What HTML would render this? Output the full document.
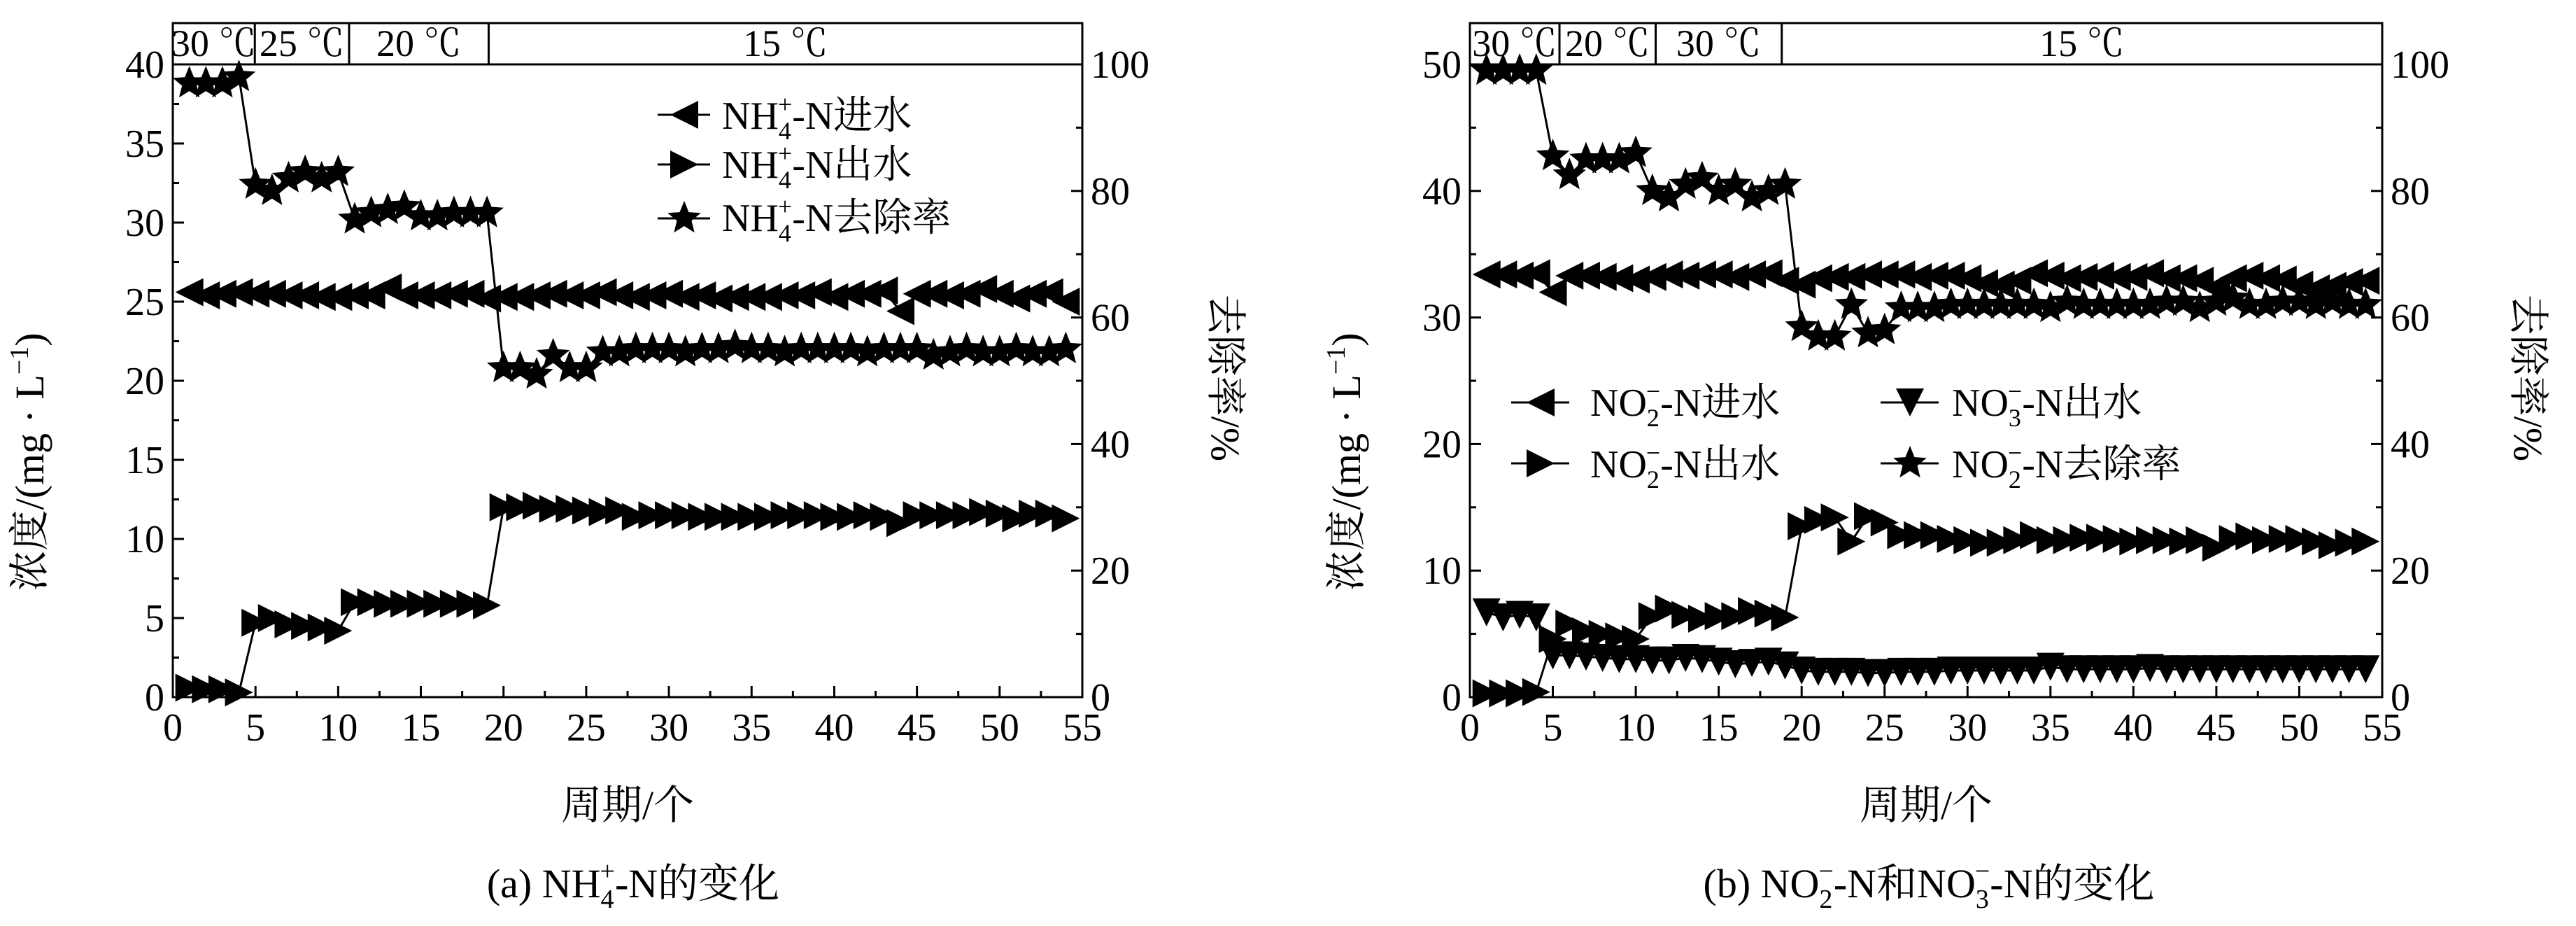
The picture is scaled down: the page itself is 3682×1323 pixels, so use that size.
<!DOCTYPE html>
<html><head><meta charset="utf-8"><style>
html,body{margin:0;padding:0;background:#fff}
svg text{font-family:"Liberation Serif","Noto Serif CJK SC","Noto Sans CJK SC",serif;fill:#000}
</style></head><body>
<svg id="s" xmlns="http://www.w3.org/2000/svg" width="3682" height="1318" viewBox="0 0 3682 1318">
<rect width="3682" height="1318" fill="#fff"/>
<g id="g"></g>
<g font-size="56">
<text x="1032" y="184">NH<tspan font-size="36" dy="15">4</tspan><tspan font-size="36" dx="-19" dy="-38">+</tspan><tspan dy="23">-N进水</tspan></text>
<text x="1032" y="254">NH<tspan font-size="36" dy="15">4</tspan><tspan font-size="36" dx="-19" dy="-38">+</tspan><tspan dy="23">-N出水</tspan></text>
<text x="1032" y="330">NH<tspan font-size="36" dy="15">4</tspan><tspan font-size="36" dx="-19" dy="-38">+</tspan><tspan dy="23">-N去除率</tspan></text>
<text x="2273" y="594">NO<tspan font-size="36" dy="15">2</tspan><tspan font-size="36" dx="-19" dy="-38">−</tspan><tspan dy="23">-N进水</tspan></text>
<text x="2273" y="682">NO<tspan font-size="36" dy="15">2</tspan><tspan font-size="36" dx="-19" dy="-38">−</tspan><tspan dy="23">-N出水</tspan></text>
<text x="2790" y="594">NO<tspan font-size="36" dy="15">3</tspan><tspan font-size="36" dx="-19" dy="-38">−</tspan><tspan dy="23">-N出水</tspan></text>
<text x="2790" y="682">NO<tspan font-size="36" dy="15">2</tspan><tspan font-size="36" dx="-19" dy="-38">−</tspan><tspan dy="23">-N去除率</tspan></text>
</g>
<g font-size="58">
<text transform="translate(62,660) rotate(-90)" text-anchor="middle">浓度/(mg · L<tspan font-size="38" dy="-22">−1</tspan><tspan dy="22">)</tspan></text>
<text transform="translate(1732,540) rotate(90)" text-anchor="middle">去除率/%</text>
<text transform="translate(1944,660) rotate(-90)" text-anchor="middle">浓度/(mg · L<tspan font-size="38" dy="-22">−1</tspan><tspan dy="22">)</tspan></text>
<text transform="translate(3594,540) rotate(90)" text-anchor="middle">去除率/%</text>
<text x="897" y="1170" text-anchor="middle">周期/个</text>
<text x="2753" y="1170" text-anchor="middle">周期/个</text>
<text x="905" y="1282" text-anchor="middle">(a) NH<tspan font-size="38" dy="15">4</tspan><tspan font-size="38" dx="-20" dy="-40">+</tspan><tspan dy="25">-N的变化</tspan></text>
<text x="2757" y="1282" text-anchor="middle">(b) NO<tspan font-size="38" dy="15">2</tspan><tspan font-size="38" dx="-20" dy="-40">−</tspan><tspan dy="25">-N和NO</tspan><tspan font-size="38" dy="15">3</tspan><tspan font-size="38" dx="-20" dy="-40">−</tspan><tspan dy="25">-N的变化</tspan></text>
</g>
</svg>
<script>
const NS="http://www.w3.org/2000/svg",G=document.getElementById('g');
function el(t,a,txt){const e=document.createElementNS(NS,t);for(const k in a)e.setAttribute(k,a[k]);if(txt!=null)e.textContent=txt;G.appendChild(e);return e;}
function tri(x,y,d){const s=20;let p;
 if(d=='L')p=[[x-s,y],[x+s,y-s],[x+s,y+s]];else if(d=='R')p=[[x+s,y],[x-s,y-s],[x-s,y+s]];else p=[[x,y+s],[x-s,y-s],[x+s,y-s]];
 el('polygon',{points:p.map(q=>q.join(',')).join(' '),fill:'#000'});}
function star(x,y){const R=25,r=11;let p=[];for(let i=0;i<10;i++){const a=-Math.PI/2+i*Math.PI/5,rr=i%2?r:R;p.push((x+rr*Math.cos(a)).toFixed(1)+','+(y+rr*Math.sin(a)).toFixed(1));}el('polygon',{points:p.join(' '),fill:'#000'});}
function series(X,Y,data,m){el('polyline',{points:data.map((v,i)=>X(i+1)+','+Y(v)).join(' '),fill:'none',stroke:'#000','stroke-width':3});
 data.forEach((v,i)=>{const x=X(i+1),y=Y(v);if(m=='S')star(x,y);else tri(x,y,m);});}
function axes(x0,x1,yT,yB,yMax,yStep,yMinor,bands){
 const X=v=>x0+(x1-x0)*v/55;
 el('rect',{x:x0,y:33,width:x1-x0,height:yT-33,fill:'none',stroke:'#000','stroke-width':3});
 let prev=0;bands.forEach(b=>{if(b[0]<55)el('line',{x1:X(b[0]),y1:33,x2:X(b[0]),y2:yT,stroke:'#000','stroke-width':3});
  el('text',{x:(X(prev)+X(b[0]))/2,y:yT-12,'text-anchor':'middle','font-size':54},b[1]);prev=b[0];});
 el('rect',{x:x0,y:yT,width:x1-x0,height:yB-yT,fill:'none',stroke:'#000','stroke-width':3});
 for(let v=0;v<=55;v+=2.5){const x=X(v),L=(v%5==0)?16:9;el('line',{x1:x,y1:yB,x2:x,y2:yB-L,stroke:'#000','stroke-width':3});
  if(v%5==0)el('text',{x:x,y:yB+62,'text-anchor':'middle','font-size':56},v);}
 for(let c=0;c<=yMax+1e-6;c+=yMinor){const y=yB-(yB-yT)*c/yMax,maj=Math.abs(c/yStep-Math.round(c/yStep))<1e-6,L=maj?16:9;
  el('line',{x1:x0,y1:y,x2:x0+L,y2:y,stroke:'#000','stroke-width':3});
  if(maj)el('text',{x:x0-12,y:y+19,'text-anchor':'end','font-size':56},Math.round(c));}
 for(let p=0;p<=100;p+=10){const y=yB-(yB-yT)*p/100,L=p%20==0?16:9;el('line',{x1:x1,y1:y,x2:x1-L,y2:y,stroke:'#000','stroke-width':3});
  if(p%20==0)el('text',{x:x1+12,y:y+19,'font-size':56},p);}
 return X;}
const X1=axes(247,1547,92,996,40,5,2.5,[[4.96,'30 ℃'],[10.66,'25 ℃'],[19.1,'20 ℃'],[55,'15 ℃']]);
const Y1=c=>996-904*c/40,R1=p=>996-904*p/100;
const inA=[25.6,25.4,25.5,25.6,25.5,25.5,25.4,25.4,25.3,25.3,25.4,25.4,25.9,25.4,25.4,25.4,25.5,25.5,25.2,25.3,25.3,25.4,25.5,25.4,25.4,25.6,25.4,25.3,25.4,25.5,25.3,25.4,25.2,25.3,25.3,25.3,25.4,25.4,25.6,25.3,25.5,25.5,25.7,24.4,25.5,25.5,25.4,25.5,25.8,25.5,25.2,25.5,25.6,25];
const outA=[0.6,0.5,0.5,0.3,4.7,5,4.6,4.5,4.4,4.2,6,6,5.9,5.9,5.9,5.9,5.9,5.9,5.8,12,12,12.1,11.9,11.9,11.8,11.7,11.8,11.4,11.5,11.5,11.5,11.4,11.4,11.4,11.4,11.4,11.5,11.5,11.5,11.4,11.4,11.5,11.4,11,11.5,11.5,11.5,11.5,11.7,11.6,11.3,11.6,11.6,11.3];
const remA=[97,97,97,98,81,80,82,83,82,83,75.5,76.5,77,77.5,76,76,76.5,76.5,76.5,52,52,51,54,52,52,54.5,54.5,55,55,55,54.5,55,55,55.5,55,55,54.5,55,55,55,55,54.5,55,55,55,54,54.5,55,54.5,54.5,55,54.5,54.5,55];
series(X1,Y1,inA,'L');series(X1,Y1,outA,'R');series(X1,R1,remA,'S');
[[164,'L'],[235,'R'],[312,'S']].forEach(([y,m])=>{el('line',{x1:940,y1:y,x2:1015,y2:y,stroke:'#000','stroke-width':3});m=='S'?star(978,y):tri(978,y,m);});
const X2=axes(2101,3405,92,996,50,10,5,[[5.4,'30 ℃'],[11.2,'20 ℃'],[18.8,'30 ℃'],[55,'15 ℃']]);
const Y2=c=>996-904*c/50,R2=p=>996-904*p/100;
const inB=[33.4,33.4,33.3,33.5,32,33.3,33.3,33.2,33.1,33,33.2,33.4,33.3,33.4,33.4,33.2,33.4,33.5,32.9,32.6,33.1,33.2,33.2,33.4,33.4,33.4,33.2,33.3,33.3,33.1,32.7,32.6,32.9,33.5,33.3,33.1,33.2,33.3,33.2,33.2,33.5,33.1,33.1,32.9,32.4,33.1,33.3,33.1,33,32.6,32.3,32.5,32.8,32.9];
const outB=[0.3,0.3,0.3,0.4,4.6,5.8,5.2,5,4.8,4.6,6.4,7,6.5,6.2,6.4,6.4,6.8,6.6,6.3,13.5,14,14.2,12.3,14.3,13.8,12.8,12.8,12.8,12.5,12.4,12.2,12.2,12.4,12.8,12.4,12.4,12.6,12.6,12.5,12.3,12.4,12.4,12.3,12.4,11.8,12.5,12.7,12.4,12.5,12.5,12.3,12,12.2,12.3];
const no3=[6.7,6.3,6.5,6.3,3.3,3.3,3.2,3.1,3,3,2.9,2.9,3.1,3,2.8,2.6,2.7,2.8,2.5,2.1,2,2,2,1.9,1.9,2,2,2,2.1,2.1,2.1,2.1,2.1,2.1,2.4,2.2,2.2,2.2,2.2,2.2,2.3,2.2,2.2,2.2,2.2,2.2,2.2,2.2,2.2,2.2,2.2,2.2,2.2,2.2];
const remB=[99,99,99,99,85.5,82.5,85,85,85,86,80,79,81,82,80,81,79,80,81,58.5,57,57,62,57.5,58,61.5,61.5,61.5,62,62,62,62,62,62,61.5,62.5,62,62,62,62,62,62.5,62.5,61.5,62.5,63,62,62,62.5,62.5,62,62.5,62,62];
series(X2,Y2,inB,'L');series(X2,Y2,outB,'R');series(X2,Y2,no3,'D');series(X2,R2,remB,'S');
[[2160,575,'L'],[2160,662,'R'],[2688,575,'D'],[2688,662,'S']].forEach(([x,y,m])=>{el('line',{x1:x,y1:y,x2:x+83,y2:y,stroke:'#000','stroke-width':3});m=='S'?star(x+42,y):tri(x+42,y,m);});
</script>
</body></html>
